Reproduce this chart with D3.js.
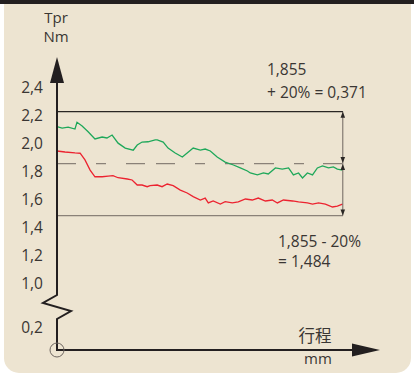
<!DOCTYPE html>
<html>
<head>
<meta charset="utf-8">
<script src="https://cdn.jsdelivr.net/npm/d3@7"></script>
<style>
  html, body { margin: 0; padding: 0; background: #ffffff; }
  svg { display: block; }
  text { font-family: "Open Sans", "Noto Sans", sans-serif; fill: #3a3633; }
</style>
</head>
<body>
<svg id="chart" width="414" height="376"></svg>
<script>
// Torque (Nm) against stroke (mm) for two test runs
const strokeGreen = [0, 1.8, 3.9, 6.3, 7.0, 8.8, 10.9, 13.3, 15.8, 17.5, 19.3, 21.4, 23.9, 26.7, 28.1, 29.8, 31.9, 34.4, 35.1, 37.2, 38.9, 41.4, 43.9, 45.6, 47.7, 50.2, 51.9, 53.7, 56.1, 58.9, 61.8, 64.2, 66.7, 67.7, 70.2, 72.3, 74.0, 76.5, 78.9, 81.1, 82.8, 84.6, 86.0, 87.7, 89.5, 91.2, 93.0, 95.1, 96.8, 98.2, 100];
const torqueGreen = [2.119, 2.109, 2.116, 2.102, 2.150, 2.124, 2.083, 2.031, 2.045, 2.038, 2.059, 2.001, 1.966, 1.951, 1.988, 2.009, 2.011, 2.024, 2.024, 2.009, 1.966, 1.931, 1.902, 1.931, 1.966, 1.952, 1.959, 1.945, 1.902, 1.866, 1.845, 1.824, 1.802, 1.788, 1.774, 1.788, 1.781, 1.824, 1.816, 1.824, 1.774, 1.788, 1.752, 1.788, 1.774, 1.824, 1.838, 1.824, 1.831, 1.816, 1.809];

const strokeRed = [0, 2.8, 6.3, 8.1, 9.8, 11.6, 13.3, 15.8, 17.9, 19.6, 21.4, 24.6, 26.3, 28.1, 29.8, 31.6, 32.6, 35.1, 36.8, 38.6, 40.7, 43.2, 45.6, 47.7, 50.2, 51.9, 53.0, 54.7, 57.2, 58.9, 61.4, 63.5, 66.0, 68.4, 70.5, 73.0, 75.4, 77.2, 79.3, 82.5, 84.6, 87.7, 89.5, 91.6, 94.0, 96.5, 98.2, 100];
const torqueRed = [1.945, 1.938, 1.931, 1.929, 1.881, 1.809, 1.761, 1.761, 1.766, 1.769, 1.754, 1.745, 1.738, 1.702, 1.702, 1.690, 1.697, 1.702, 1.690, 1.709, 1.697, 1.666, 1.645, 1.619, 1.595, 1.609, 1.574, 1.588, 1.566, 1.583, 1.574, 1.581, 1.602, 1.595, 1.609, 1.588, 1.595, 1.574, 1.595, 1.588, 1.581, 1.574, 1.566, 1.574, 1.566, 1.545, 1.552, 1.566];

const yTicks = [0.2, 1.0, 1.2, 1.4, 1.6, 1.8, 2.0, 2.2, 2.4];
const nominal = 1.855;
const upperLimit = 2.226;   // 1,855 + 20%
const lowerLimit = 1.484;   // 1,855 - 20%

const upperNote = ["1,855", "+ 20% = 0,371"];
const lowerNote = ["1,855 - 20%", "= 1,484"];
const yTitle = ["Tpr", "Nm"];
const xTitle = ["行程", "mm"];

const svg = d3.select("#chart");

// panel: beige card, dark rule on top, rounded lower corners
const L = 4, R = 411, B = 373, r = 15;
svg.append("path")
  .attr("d", `M${L},0 H${R} V${B - r} A${r},${r} 0 0 1 ${R - r},${B} H${L + r} A${r},${r} 0 0 1 ${L},${B - r} Z`)
  .attr("fill", "#ede4d1");
svg.append("rect").attr("x", 0).attr("y", 0).attr("width", 414).attr("height", 4).attr("fill", "#231f20");

// scales: y axis is broken between 0,2 and 1,0
const x = d3.scaleLinear().domain([0, 100]).range([57, 342.5]);
const y = d3.scaleLinear().domain([0, 0.2, 1.0, 2.4]).range([350, 328, 283.3, 87.3]);

const x0 = x(0), y0 = y(0);

// tick labels
const yAxis = d3.axisLeft(y)
  .tickValues(yTicks)
  .tickSize(0)
  .tickPadding(14)
  .tickFormat(d => d3.format(".1f")(d).replace(".", ","));
const gy = svg.append("g").attr("transform", `translate(${x0},0)`).call(yAxis);
gy.select(".domain").remove();
gy.selectAll("text")
  .attr("font-family", "'Open Sans', 'Noto Sans', sans-serif")
  .attr("font-size", 15.5)
  .attr("fill", "#3a3633");

// limit lines
svg.append("line")
  .attr("x1", x0).attr("x2", x(100) + 0.5)
  .attr("y1", y(upperLimit)).attr("y2", y(upperLimit))
  .attr("stroke", "#2a2624").attr("stroke-width", 1.2);
svg.append("line")
  .attr("x1", x0).attr("x2", x(100) + 0.5)
  .attr("y1", y(lowerLimit)).attr("y2", y(lowerLimit))
  .attr("stroke", "#8a8178").attr("stroke-width", 1.2);
svg.append("line")
  .attr("x1", x0).attr("x2", x(100))
  .attr("y1", y(nominal)).attr("y2", y(nominal))
  .attr("stroke", "#8a8178").attr("stroke-width", 1.2)
  .attr("stroke-dasharray", "19 20 10 20 19 11 19 20 10 20 19 10 20 20 10 19 19");

// torque curves
const line = d3.line().x(d => x(d[0])).y(d => y(d[1]));
svg.append("path")
  .datum(d3.zip(strokeGreen, torqueGreen))
  .attr("d", line)
  .attr("fill", "none").attr("stroke", "#1fa85a").attr("stroke-width", 1.3);
svg.append("path")
  .datum(d3.zip(strokeRed, torqueRed))
  .attr("d", line)
  .attr("fill", "none").attr("stroke", "#ec2330").attr("stroke-width", 1.3);

// dimension arrows for ±20%
const dx = x(100) + 0.3;
svg.append("line")
  .attr("x1", dx).attr("x2", dx)
  .attr("y1", y(upperLimit)).attr("y2", y(lowerLimit))
  .attr("stroke", "#6e6660").attr("stroke-width", 1);
function tip(ty, dir) {
  // dir: -1 points up, +1 points down
  const len = 6, hw = 2.3;
  svg.append("path")
    .attr("d", `M${dx},${ty} L${dx - hw},${ty - dir * len} L${dx + hw},${ty - dir * len} Z`)
    .attr("fill", "#2a2624");
}
tip(y(upperLimit), -1);
tip(y(nominal) - 0.5, 1);
tip(y(nominal) + 0.5, -1);
tip(y(lowerLimit), 1);

// axes with arrowheads and axis break
const axisColor = "#231f20";
svg.append("path")
  .attr("d", `M${x0},82 V295 L${x0 - 14},303 L${x0 + 14},311 L${x0},319 V${y0} H353`)
  .attr("fill", "none").attr("stroke", axisColor).attr("stroke-width", 2)
  .attr("stroke-linejoin", "miter");
svg.append("path")
  .attr("d", `M${x0},57 L${x0 - 7},83 L${x0 + 7},83 Z`)
  .attr("fill", axisColor);
svg.append("path")
  .attr("d", `M380,${y0} L352,${y0 - 6.5} L352,${y0 + 6.5} Z`)
  .attr("fill", axisColor);
svg.append("circle")
  .attr("cx", x0).attr("cy", y0).attr("r", 7)
  .attr("fill", "none").attr("stroke", "#6e6660").attr("stroke-width", 1);

// axis titles
svg.selectAll("text.ytitle").data(yTitle).enter().append("text")
  .attr("class", "ytitle")
  .attr("x", 56).attr("y", (d, i) => 23 + i * 19)
  .attr("text-anchor", "middle").attr("font-size", 15)
  .text(d => d);
svg.append("text")
  .attr("x", 315).attr("y", 342)
  .attr("text-anchor", "middle").attr("font-size", 16.5)
  .style("font-family", "'Noto Sans CJK SC', sans-serif")
  .text(xTitle[0]);
svg.append("text")
  .attr("x", 318).attr("y", 364)
  .attr("text-anchor", "middle").attr("font-size", 15)
  .text(xTitle[1]);

// tolerance notes
svg.selectAll("text.up").data(upperNote).enter().append("text")
  .attr("class", "up")
  .attr("x", 267).attr("y", (d, i) => 75 + i * 23)
  .attr("font-size", 15.5)
  .text(d => d);
svg.selectAll("text.low").data(lowerNote).enter().append("text")
  .attr("class", "low")
  .attr("x", 278).attr("y", (d, i) => 247 + i * 20)
  .attr("font-size", 15.5)
  .text(d => d);
</script>
</body>
</html>
